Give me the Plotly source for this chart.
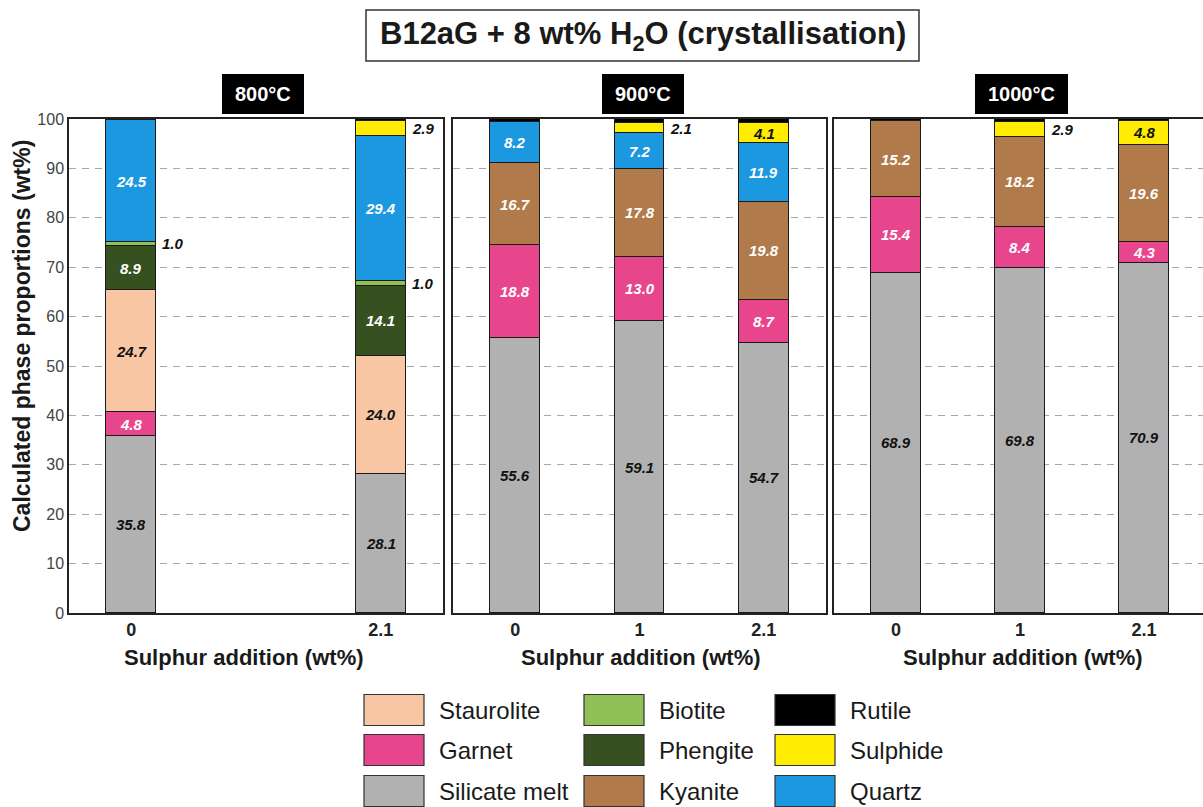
import plotly.graph_objects as go

# Phase proportions (wt%) for each modelled run, ordered 800 / 900 / 1000 °C
temperature = ["800°C", "800°C", "900°C", "900°C", "900°C", "1000°C", "1000°C", "1000°C"]
sulphur = ["0", "2.1", "0", "1", "2.1", "0", "1", "2.1"]

silicate_melt = [35.8, 28.1, 55.6, 59.1, 54.7, 68.9, 69.8, 70.9]
garnet = [4.8, 0.0, 18.8, 13.0, 8.7, 15.4, 8.4, 4.3]
staurolite = [24.7, 24.0, 0.0, 0.0, 0.0, 0.0, 0.0, 0.0]
phengite = [8.9, 14.1, 0.0, 0.0, 0.0, 0.0, 0.0, 0.0]
biotite = [1.0, 1.0, 0.0, 0.0, 0.0, 0.0, 0.0, 0.0]
kyanite = [0.0, 0.0, 16.7, 17.8, 19.8, 15.2, 18.2, 19.6]
quartz = [24.5, 29.4, 8.2, 7.2, 11.9, 0.0, 0.0, 0.0]
sulphide = [0.0, 2.9, 0.0, 2.1, 4.1, 0.0, 2.9, 4.8]
rutile = [0.3, 0.5, 0.7, 0.8, 0.8, 0.5, 0.7, 0.4]

panels = ["800°C", "900°C", "1000°C"]
slot_ticks = [["0", "2.1"], ["0", "1", "2.1"], ["0", "1", "2.1"]]

# stacking order (bottom to top): name, values, fill, label colour
phases = [
    ("Silicate melt", silicate_melt, "#b2b1b1", "#111111"),
    ("Garnet", garnet, "#e8468c", "#ffffff"),
    ("Staurolite", staurolite, "#f8c6a2", "#111111"),
    ("Phengite", phengite, "#37501f", "#ffffff"),
    ("Biotite", biotite, "#8fc157", "#111111"),
    ("Kyanite", kyanite, "#b07a4a", "#ffffff"),
    ("Quartz", quartz, "#1b98df", "#ffffff"),
    ("Sulphide", sulphide, "#ffec00", "#111111"),
    ("Rutile", rutile, "#000000", "#111111"),
]

legend_columns = [
    ["Staurolite", "Garnet", "Silicate melt"],
    ["Biotite", "Phengite", "Kyanite"],
    ["Rutile", "Sulphide", "Quartz"],
]
phase_color = {p[0]: p[2] for p in phases}

slot = {"0": 0, "1": 1, "2.1": 2}

W, H = 1203, 807
ML, MR, MT, MB = 69, 0, 119, 194
PW, PH = W - ML - MR, H - MT - MB


def px(x):
    return (x - ML) / PW


def py(y):
    return (H - MB - y) / PH


def paper_text(x, y, text, size, color="#1a1a1a", xanchor="center", angle=0):
    return dict(x=px(x), y=py(y), xref="paper", yref="paper", showarrow=False,
                xanchor=xanchor, yanchor="middle", textangle=angle, text=text,
                font=dict(family="Arial", size=size, color=color))


domains = [[px(69), px(443)], [px(453), px(826)], [px(834), 1.0]]
xranges = [[-0.5, 2.5], [-0.5, 2.5], [-0.5, 2.5 - 3 / 124]]

fig = go.Figure()
BAR_W = 0.4
annotations = []

for k, T in enumerate(panels):
    ax = "" if k == 0 else str(k + 1)
    idx = [i for i, t in enumerate(temperature) if t == T]
    for name, vals, color, _ in phases:
        xs = [slot[sulphur[i]] for i in idx if vals[i] > 0]
        ys = [vals[i] for i in idx if vals[i] > 0]
        if not ys:
            continue
        fig.add_trace(go.Bar(
            x=xs, y=ys, name=name, width=BAR_W,
            marker=dict(color=color, line=dict(color="#1a1a1a", width=1.3)),
            xaxis="x" + ax, yaxis="y" + ax, showlegend=False,
            hovertemplate=name + ": %{y}<extra></extra>",
        ))
    # value labels on each segment
    for i in idx:
        base = 0.0
        for name, vals, color, tcol in phases:
            v = vals[i]
            if v > 0 and name != "Rutile":
                mid = base + v / 2
                inside = v >= 4
                annotations.append(dict(
                    x=slot[sulphur[i]] + (0 if inside else BAR_W / 2), y=mid,
                    xref="x" + ax, yref="y" + ax,
                    text=f"<b><i>{v:.1f}</i></b>", showarrow=False,
                    xanchor="center" if inside else "left", yanchor="middle",
                    xshift=0 if inside else 4,
                    font=dict(family="Arial", size=15, color=tcol if inside else "#111111"),
                ))
            base += v

axis_common = dict(showline=True, linecolor="#222222", linewidth=1.5)
for k in range(3):
    ax = "" if k == 0 else str(k + 1)
    ticks = slot_ticks[k]
    fig.layout["xaxis" + ax] = dict(
        domain=domains[k], range=xranges[k], anchor="y" + ax,
        tickmode="array", tickvals=[slot[t] for t in ticks], ticktext=[f"<b>{t}</b>" for t in ticks],
        tickfont=dict(family="Arial", size=18, color="#222222"),
        showgrid=False, zeroline=False, mirror=True, ticks="", fixedrange=True,
        **axis_common,
    )
    fig.layout["yaxis" + ax] = dict(
        domain=[0, 1], range=[0, 100], anchor="x" + ax,
        tickmode="array", tickvals=list(range(0, 101, 10)),
        showticklabels=(k == 0),
        tickfont=dict(family="Arial", size=16, color="#444444"),
        showgrid=True, gridcolor="#a8a8a8", gridwidth=1, griddash="7px,6px",
        zeroline=False, mirror=(k < 2), ticks="", fixedrange=True,
        **axis_common,
    )

# x-axis titles
for cx in [244, 641, 1023]:
    annotations.append(paper_text(cx, 657, "<b>Sulphur addition (wt%)</b>", 22))

# y-axis title
annotations.append(paper_text(22, 336, "<b>Calculated phase proportions (wt%)</b>", 23, angle=-90))

shapes = []

# temperature header boxes
headers = [("800°C", 222, 304), ("900°C", 602, 684), ("1000°C", 975, 1068)]
for label, x0, x1 in headers:
    shapes.append(dict(type="rect", xref="paper", yref="paper",
                       x0=px(x0), x1=px(x1), y0=py(114), y1=py(74),
                       fillcolor="#000000", line=dict(width=0)))
    annotations.append(paper_text((x0 + x1) / 2, 94, f"<b>{label}</b>", 20, color="#ffffff"))

# main title box
shapes.append(dict(type="rect", xref="paper", yref="paper",
                   x0=px(366), x1=px(919), y0=py(61), y1=py(10),
                   fillcolor="#ffffff", line=dict(color="#333333", width=1.5)))
annotations.append(paper_text(642.5, 36, "<b>B12aG + 8 wt% H<sub>2</sub>O (crystallisation)</b>", 31))

# legend grid
col_x = [364, 584, 775]
row_y = [710, 750, 791]
SW, SH = 60, 31
for c, names in enumerate(legend_columns):
    for r, name in enumerate(names):
        x0 = col_x[c]
        yc = row_y[r]
        shapes.append(dict(type="rect", xref="paper", yref="paper",
                           x0=px(x0), x1=px(x0 + SW), y0=py(yc + SH / 2), y1=py(yc - SH / 2),
                           fillcolor=phase_color[name], line=dict(color="#333333", width=1.2)))
        annotations.append(paper_text(x0 + SW + 13, yc, name, 24, xanchor="left"))

fig.update_layout(
    width=W, height=H,
    margin=dict(l=ML, r=MR, t=MT, b=MB, pad=0),
    barmode="stack", bargap=0,
    paper_bgcolor="#ffffff", plot_bgcolor="#ffffff",
    showlegend=False,
    annotations=annotations, shapes=shapes,
    font=dict(family="Arial"),
)

fig.write_html("out.html")
